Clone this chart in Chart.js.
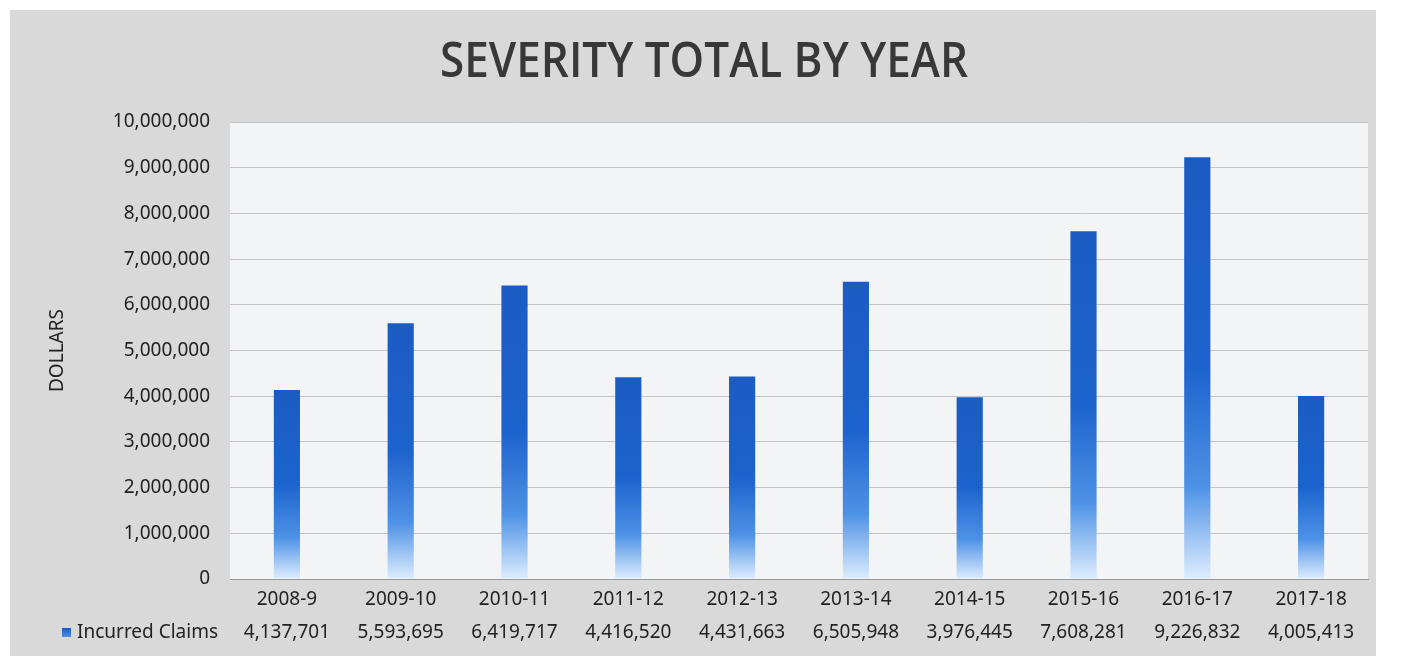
<!DOCTYPE html>
<html>
<head>
<meta charset="utf-8">
<script src="https://cdn.jsdelivr.net/npm/chart.js@4.4.1/dist/chart.umd.min.js"></script>
<style>
  html, body { margin: 0; padding: 0; background: #ffffff; }
  #wrap { width: 1401px; height: 663px; position: relative; }
</style>
</head>
<body>
<div id="wrap"><canvas id="c" width="1401" height="663"></canvas></div>
<script>
const chartTitle = 'SEVERITY TOTAL BY YEAR';
const yAxisTitle = 'DOLLARS';
const seriesName = 'Incurred Claims';
const categories = ['2008-9', '2009-10', '2010-11', '2011-12', '2012-13', '2013-14', '2014-15', '2015-16', '2016-17', '2017-18'];
const incurredClaims = [4137701, 5593695, 6419717, 4416520, 4431663, 6505948, 3976445, 7608281, 9226832, 4005413];
const yMin = 0, yMax = 10000000, yStep = 1000000;

const FONT = '"Noto Sans", "Open Sans", sans-serif';
const TEXT = '#222222';

const bgPlugin = {
  id: 'bg',
  beforeDraw(chart) {
    const c = chart.ctx, a = chart.chartArea;
    c.save();
    c.fillStyle = '#ffffff';
    c.fillRect(0, 0, chart.width, chart.height);
    c.fillStyle = '#d9d9d9';
    c.fillRect(10, 10, 1366, 646);
    c.fillStyle = '#f3f4f6';
    c.fillRect(a.left, a.top, a.right - a.left, a.bottom - a.top);
    c.restore();
  },
  afterDraw(chart) {
    const c = chart.ctx, x = chart.scales.x;
    c.save();
    c.fillStyle = '#383838';
    c.font = '600 48px "Open Sans", "Noto Sans", sans-serif';
    c.textBaseline = 'middle';
    c.textAlign = 'center';
    const w = c.measureText(chartTitle).width;
    const target = 528;
    c.translate(704, 63);
    c.scale(target / w, 1);
    c.fillText(chartTitle, 0, 0);
    c.restore();

    c.save();
    c.font = '19px ' + FONT;
    c.fillStyle = TEXT;
    c.textBaseline = 'middle';
    c.textAlign = 'center';
    incurredClaims.forEach((v, i) => {
      c.fillText(v.toLocaleString('en-US'), x.getPixelForValue(i), 633);
    });
    c.textAlign = 'left';
    c.fillText(seriesName, 77, 633);
    const g = c.createLinearGradient(0, 628, 0, 637);
    g.addColorStop(0, '#1a5cc4');
    g.addColorStop(1, '#4a8ee6');
    c.fillStyle = g;
    c.fillRect(62, 628, 9, 9);
    c.restore();
  }
};

new Chart(document.getElementById('c'), {
  type: 'bar',
  data: {
    labels: categories,
    datasets: [{
      label: seriesName,
      data: incurredClaims,
      categoryPercentage: 1.0,
      barPercentage: 0.23,
      borderWidth: 0,
      backgroundColor: (ctx) => {
        const chart = ctx.chart;
        if (!chart.chartArea || ctx.raw == null) return '#1b5fc8';
        const ys = chart.scales.y;
        const top = ys.getPixelForValue(ctx.raw);
        const base = ys.getPixelForValue(0);
        const g = chart.ctx.createLinearGradient(0, top, 0, base);
        g.addColorStop(0, '#1a5cc2');
        g.addColorStop(0.5, '#1d63cd');
        g.addColorStop(0.78, '#4d92e6');
        g.addColorStop(1, '#deedfd');
        return g;
      }
    }]
  },
  options: {
    responsive: false,
    animation: false,
    layout: { padding: { top: 122, right: 33, bottom: 0, left: 0 } },
    plugins: {
      legend: { display: false },
      title: { display: false },
      tooltip: { enabled: false }
    },
    scales: {
      x: {
        grid: { display: false, drawTicks: false },
        border: { display: true, color: '#9a9a9a', width: 1 },
        ticks: { color: TEXT, font: { family: FONT, size: 19 }, padding: 9, maxRotation: 0, autoSkip: false },
        afterFit(s) { s.height = 84; }
      },
      y: {
        min: yMin, max: yMax,
        grid: { color: '#c4c4c6', lineWidth: 1, drawTicks: false },
        border: { display: false },
        ticks: {
          stepSize: yStep,
          color: TEXT,
          font: { family: FONT, size: 19 },
          padding: 20,
          callback: (v) => Number(v).toLocaleString('en-US')
        },
        title: {
          display: true,
          text: yAxisTitle,
          color: TEXT,
          font: { family: FONT, size: 19 },
          padding: { top: 46, bottom: 0 }
        },
        afterFit(s) { s.width = 230; }
      }
    }
  },
  plugins: [bgPlugin]
});
</script>
</body>
</html>
